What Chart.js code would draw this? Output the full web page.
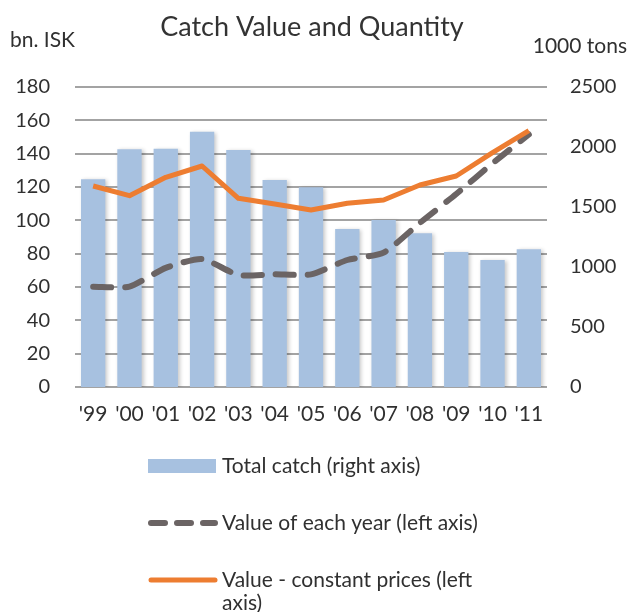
<!DOCTYPE html>
<html>
<head>
<meta charset="utf-8">
<style>
  html, body { margin: 0; padding: 0; background: #fff; }
  #wrap { width: 628px; height: 612px; }
</style>
<script src="https://cdn.jsdelivr.net/npm/chart.js@4.4.1/dist/chart.umd.min.js"></script>
</head>
<body>
<div id="wrap"><canvas id="myChart" width="628" height="612"></canvas></div>
<script>
// data
const years = ["'99", "'00", "'01", "'02", "'03", "'04", "'05", "'06", "'07", "'08", "'09", "'10", "'11"];
const totalCatch = [1731, 1981, 1986, 2128, 1975, 1725, 1664, 1317, 1392, 1281, 1125, 1058, 1147];
const valueEachYear = [60.2, 60.2, 71.5, 76.8, 67.2, 67.6, 67.6, 76.2, 80.6, 98.5, 115.8, 134.2, 151.5];
const valueConstant = [120.6, 114.8, 125.8, 132.6, 113.2, 109.8, 106.2, 110.2, 112.2, 121.2, 126.6, 140.6, 153.8];
const legendLabels = ['Total catch (right axis)', 'Value of each year (left axis)', ['Value - constant prices (left', 'axis)']];
const leftTicks = [0, 20, 40, 60, 80, 100, 120, 140, 160, 180];
const rightTicks = [0, 500, 1000, 1500, 2000, 2500];

const font = 'Lato, "Open Sans", sans-serif';
const textColor = '#303030';

// bar shadow
const shadowPlugin = {
    id: 'barShadow',
    beforeDatasetDraw(chart, args) {
        if (args.meta.type === 'bar') {
            const c = chart.ctx;
            c.save();
            c.shadowColor = 'rgba(0,0,0,0.22)';
            c.shadowBlur = 4;
            c.shadowOffsetX = 2;
            c.shadowOffsetY = 1;
        }
    },
    afterDatasetDraw(chart, args) {
        if (args.meta.type === 'bar') chart.ctx.restore();
    }
};

// title, unit labels and legend
const extrasPlugin = {
    id: 'extras',
    afterDraw(chart) {
        const c = chart.ctx;
        c.save();
        c.fillStyle = '#333333';
        c.textBaseline = 'middle';
        c.textAlign = 'center';
        c.font = '27px ' + font;
        c.fillText('Catch Value and Quantity', 312, 27);

        c.fillStyle = textColor;
        c.font = '21px ' + font;
        c.textAlign = 'left';
        c.fillText('bn. ISK', 10, 40);
        c.textAlign = 'right';
        c.fillText('1000 tons', 627, 46);

        // legend
        c.textAlign = 'left';
        const x0 = 148, x1 = 216, tx = 222;
        const ys = [466, 523, 580];
        const ds = chart.data.datasets;

        c.fillStyle = ds[0].backgroundColor;
        c.fillRect(x0, ys[0] - 7, x1 - x0, 14);

        c.lineCap = 'round';
        c.strokeStyle = ds[1].borderColor;
        c.lineWidth = 6;
        c.setLineDash([14, 12]);
        c.beginPath();
        c.moveTo(x0 + 3, ys[1]);
        c.lineTo(x1 - 1, ys[1]);
        c.stroke();

        c.setLineDash([]);
        c.strokeStyle = ds[2].borderColor;
        c.lineWidth = 5;
        c.beginPath();
        c.moveTo(x0 + 3, ys[2]);
        c.lineTo(x1 - 1, ys[2]);
        c.stroke();

        c.fillStyle = textColor;
        c.font = '21px ' + font;
        legendLabels.forEach((lab, i) => {
            const lines = Array.isArray(lab) ? lab : [lab];
            lines.forEach((l, j) => c.fillText(l, tx, ys[i] + j * 23));
        });
        c.restore();
    }
};

const ctx = document.getElementById('myChart');

new Chart(ctx, {
    data: {
        labels: years,
        datasets: [{
            type: 'bar',
            label: legendLabels[0],
            data: totalCatch,
            yAxisID: 'y1',
            backgroundColor: '#a7c1e0',
            barPercentage: 0.67,
            categoryPercentage: 1,
            order: 3
        }, {
            type: 'line',
            label: legendLabels[1],
            data: valueEachYear,
            yAxisID: 'y',
            borderColor: '#6b6464',
            borderWidth: 6,
            borderDash: [18, 14],
            borderCapStyle: 'round',
            pointRadius: 0,
            tension: 0.2,
            order: 2
        }, {
            type: 'line',
            label: legendLabels[2].join(' '),
            data: valueConstant,
            yAxisID: 'y',
            borderColor: '#ed7d31',
            borderWidth: 5,
            borderJoinStyle: 'round',
            pointRadius: 0,
            tension: 0,
            order: 1
        }]
    },
    options: {
        responsive: false,
        animation: false,
        layout: { padding: { top: 87, left: 0, right: 0, bottom: 0 } },
        plugins: {
            legend: { display: false },
            title: { display: false },
            tooltip: { enabled: false }
        },
        scales: {
            x: {
                offset: true,
                grid: { display: false, drawTicks: false },
                border: { display: false },
                ticks: { color: textColor, font: { family: font, size: 21 }, padding: 15, maxRotation: 0, autoSkip: false },
                afterFit(scale) { scale.height = 612 - 387; }
            },
            y: {
                position: 'left',
                min: 0,
                max: 180,
                afterBuildTicks(scale) { scale.ticks = leftTicks.map(v => ({ value: v })); },
                grid: { color: '#a3a3a3', lineWidth: 2, drawTicks: false },
                border: { display: false },
                ticks: { color: textColor, font: { family: font, size: 20 }, padding: 25 },
                afterFit(scale) { scale.width = 75; }
            },
            y1: {
                position: 'right',
                min: 0,
                max: 2500,
                afterBuildTicks(scale) { scale.ticks = rightTicks.map(v => ({ value: v })); },
                grid: { display: false, drawTicks: false },
                border: { display: false },
                ticks: { color: textColor, font: { family: font, size: 20 }, padding: 23, callback: v => String(v) },
                afterFit(scale) { scale.width = 628 - 547; }
            }
        }
    },
    plugins: [shadowPlugin, extrasPlugin]
});
</script>
</body>
</html>
